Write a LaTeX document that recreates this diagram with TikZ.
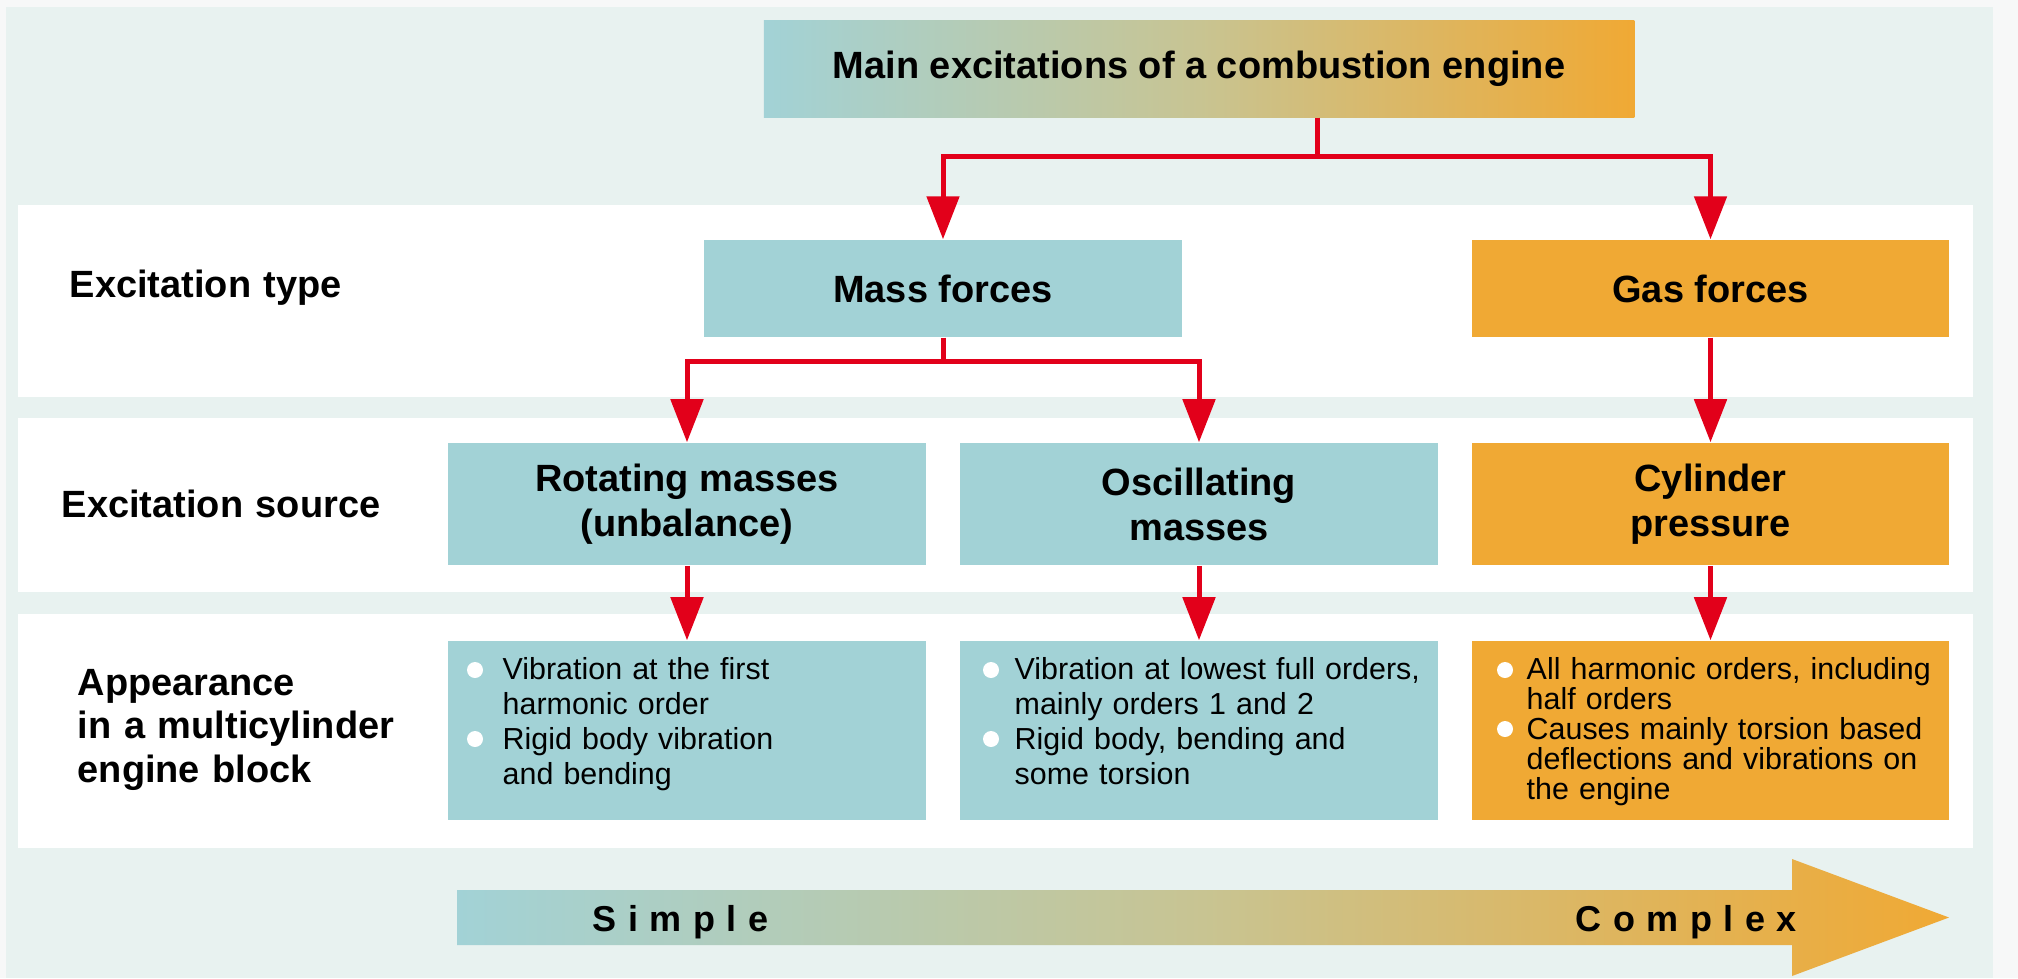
\documentclass[tikz,border=0pt]{standalone}
\usepackage{fontspec}
\setmainfont{Liberation Sans}
\newfontfamily\spacedfont[LetterSpace=32]{Liberation Sans}
\usetikzlibrary{arrows.meta}
\definecolor{outerc}{HTML}{F7F8F8}
\definecolor{bgc}{HTML}{E8F2F0}
\definecolor{tealbox}{HTML}{A2D2D6}
\definecolor{orangebox}{HTML}{F0A934}
\definecolor{midc}{RGB}{200,196,146}
\definecolor{redline}{HTML}{E2001A}
\tikzset{
  conn/.style={draw=redline, line width=0.05cm},
  arr/.style={conn, -{Triangle[length=4.3mm,width=3.2mm]}},
  tealnode/.style={rectangle, fill=tealbox, inner sep=0pt, minimum width=4.78cm, align=center},
  orangenode/.style={rectangle, fill=orangebox, inner sep=0pt, minimum width=4.77cm, align=center},
  headfont/.style={font=\fontsize{10.8}{12.8}\selectfont\bfseries},
  bodytext/.style={anchor=base west, inner sep=0pt, text width=4.3cm, align=left, font=\fontsize{8.65}{9.96}\selectfont},
  sidelabel/.style={anchor=base west, inner sep=0pt, text width=5cm, align=left, font=\fontsize{10.8}{12.5}\selectfont\bfseries},
  bulletdot/.style={fill=white},
  gradfill/.style={left color=tealbox, right color=orangebox, middle color=midc}
}
\begin{document}
\begin{tikzpicture}[x=0.01cm, y=-0.01cm]
\useasboundingbox (0,0) rectangle (2018,978);
\fill[outerc] (0,0) rectangle (2018,978);
\fill[bgc] (6,7) rectangle (1993,978);
% white bands
\fill[white] (18,205) rectangle (1973,397);
\fill[white] (18,418) rectangle (1973,592);
\fill[white] (18,614) rectangle (1973,848);

% top box
\node[rectangle, gradfill, inner sep=0pt, minimum width=8.70cm, minimum height=0.96cm, headfont] (main) at (1199,69) {Main excitations of a combustion engine};

% excitation type
\node[tealnode, minimum height=0.97cm, headfont] (mass) at (943,288.5) {Mass forces};
\node[orangenode, minimum height=0.97cm, headfont] (gas) at (1710.5,288.5) {Gas forces};

% excitation source
\node[tealnode, minimum height=1.22cm, headfont] (rot) at (687,504) {Rotating masses\\(unbalance)};
\node[tealnode, minimum height=1.22cm, headfont] (osc) at (1199,504) {Oscillating\\masses};
\node[orangenode, minimum height=1.22cm, headfont] (cyl) at (1710.5,504) {Cylinder\\pressure};

% appearance boxes
\node[tealnode, minimum height=1.79cm] (rotapp) at (687,730.5) {};
\node[tealnode, minimum height=1.79cm] (oscapp) at (1199,730.5) {};
\node[orangenode, minimum height=1.79cm] (cylapp) at (1710.5,730.5) {};

% appearance texts
\node[bodytext] (rottxt) at (502,679) {Vibration at the first\\harmonic order\\Rigid body vibration\\and bending};
\fill[bulletdot] (475,670) circle (8);
\fill[bulletdot] (475,739) circle (8);
\node[bodytext] (osctxt) at (1014,679) {Vibration at lowest full orders,\\mainly orders 1 and 2\\Rigid body, bending and\\some torsion};
\fill[bulletdot] (991,670) circle (8);
\fill[bulletdot] (991,739) circle (8);
\node[bodytext, font=\fontsize{8.65}{8.55}\selectfont] (cyltxt) at (1526,679) {All harmonic orders, including\\half orders\\Causes mainly torsion based\\deflections and vibrations on\\the engine};
\fill[bulletdot] (1505,670) circle (8);
\fill[bulletdot] (1505,729) circle (8);

% side labels
\node[sidelabel] (lbltype) at (69,297) {Excitation type};
\node[sidelabel] (lblsource) at (61,517) {Excitation source};
\node[sidelabel] (lblapp) at (77,695) {Appearance\\in a multicylinder\\engine block};

% connectors
\coordinate (j1) at (1317,156);
\draw[conn] (main.south -| j1) -- (j1);
\draw[arr] (j1) -| (mass.north);
\draw[arr] (j1) -| (gas.north);
\coordinate (j2) at (943,361);
\draw[conn] (mass.south) -- (j2);
\draw[arr] (j2) -| (rot.north);
\draw[arr] (j2) -| (osc.north);
\draw[arr] (gas.south) -- (cyl.north);
\draw[arr] (rot.south) -- (rotapp.north);
\draw[arr] (osc.south) -- (oscapp.north);
\draw[arr] (cyl.south) -- (cylapp.north);

% bottom arrow
\shade[gradfill] (457,890) -- (1792,890) -- (1792,859) -- (1949,917.5) -- (1792,976) -- (1792,945) -- (457,945) -- cycle;
\node[anchor=base west, inner sep=0pt, font=\spacedfont\fontsize{10.24}{12}\selectfont\bfseries] (simple) at (592,931) {Simple};
\node[anchor=base west, inner sep=0pt, font=\spacedfont\fontsize{10.24}{12}\selectfont\bfseries] (complex) at (1575,931) {Complex};
\end{tikzpicture}
\end{document}
